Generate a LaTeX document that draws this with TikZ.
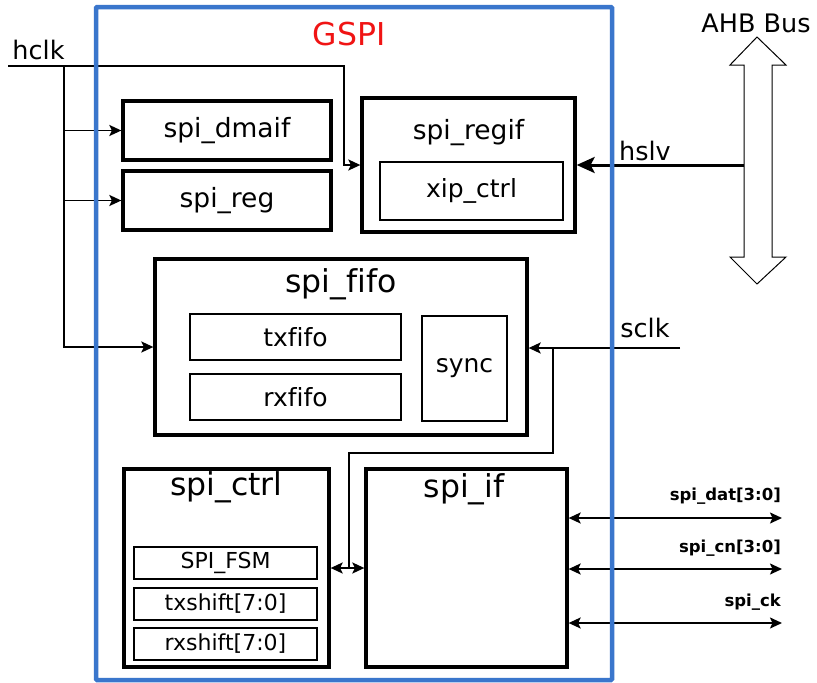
\documentclass[tikz,border=0pt]{standalone}
\usepackage{fontspec}
\setmainfont{DejaVu Sans}[Ligatures=NoCommon]
\usetikzlibrary{arrows.meta}
\definecolor{gspiblue}{RGB}{58,118,204}
\definecolor{gspired}{RGB}{240,20,20}
\begin{document}
\begin{tikzpicture}[x=1pt,y=-1pt,
  box/.style={draw, line width=3.3pt, inner sep=0pt, font=\fontsize{26.5}{30}\selectfont},
  inbox/.style={draw, line width=1.5pt, inner sep=0pt, font=\fontsize{25}{29}\selectfont},
  smbox/.style={draw, line width=1.5pt, inner sep=0pt, font=\fontsize{22}{25}\selectfont},
  title/.style={inner sep=0pt, font=\fontsize{31.5}{35}\selectfont},
  lbl/.style={inner sep=0pt, font=\fontsize{25.5}{29}\selectfont},
  pin/.style={inner sep=0pt, anchor=south east, font=\bfseries\fontsize{16.5}{19}\selectfont},
  wire/.style={line width=1.8pt},
  tip/.tip={Stealth[length=12pt,width=11pt,inset=2.5pt]},
  arr/.style={wire, -tip},
  darr/.style={wire, tip-tip},
  bigarr/.style={line width=3pt, -{Stealth[length=18pt,width=16pt,inset=4pt]}}]
\useasboundingbox (0,0) rectangle (817,683);
\fill[white] (0,0) rectangle (817,683);

% blocks
\node[box, minimum width=208pt, minimum height=59pt] (dmaif) at (227,130.5) {spi\_dmaif};
\node[box, minimum width=208pt, minimum height=59pt] (reg) at (227,200.5) {spi\_reg};
\node[box, minimum width=213pt, minimum height=134pt] (regif) at (468.5,165) {};
\node[inner sep=0pt, font=\fontsize{26.5}{30}\selectfont] (regiflbl) at (468.5,133) {spi\_regif};
\node[inbox, minimum width=183pt, minimum height=58pt] (xip) at (471.5,191) {xip\_ctrl};

\node[box, minimum width=372pt, minimum height=176pt] (fifo) at (341,347) {};
\node[title] (fifolbl) at (341,284) {spi\_fifo};
\node[inbox, minimum width=211pt, minimum height=46pt] (txfifo) at (295.5,337) {txfifo};
\node[inbox, minimum width=211pt, minimum height=46pt] (rxfifo) at (295.5,397) {rxfifo};
\node[inbox, minimum width=85pt, minimum height=105pt] (sync) at (464.5,368.5) {sync};

\node[box, minimum width=205pt, minimum height=198pt] (ctrl) at (226.5,568) {};
\node[title] (ctrllbl) at (226.5,487) {spi\_ctrl};
\node[smbox, minimum width=183pt, minimum height=32pt] (fsm) at (225.5,563) {SPI\_FSM};
\node[smbox, minimum width=183pt, minimum height=32pt] (txsh) at (225.5,604) {txshift[7:0]};
\node[smbox, minimum width=183pt, minimum height=32pt] (rxsh) at (225.5,644) {rxshift[7:0]};

\node[box, minimum width=201pt, minimum height=198pt] (spiif) at (466.5,568) {};
\node[title] (spiiflbl) at (464,489) {spi\_if};

% labels
\node[lbl] (hclk) at (38.5,50) {hclk};
\node[lbl] (hslv) at (645,151) {hslv};
\node[lbl] (sclk) at (645,328) {sclk};
\node[lbl] (ahb) at (756,23) {AHB Bus};
\node[title, text=gspired] (gspi) at (349,34) {GSPI};

% hclk wiring
\coordinate (hclkS) at (8,66);
\coordinate (hj) at (64,66);
\coordinate (hturn) at (344,66);
\draw[arr] (hclkS) -- (hturn) |- (regif.west);
\draw[arr] (hj) |- (dmaif.west);
\draw[arr] (hj) |- (reg.west);
\draw[arr] (hj) |- (fifo.west);

% AHB bus
\draw[line width=1pt] (757,37) -- (786,65) -- (772,65) -- (772,257) -- (786,257)
  -- (757,284) -- (730,257) -- (744,257) -- (744,65) -- (730,65) -- cycle;
\coordinate (busL) at (744,165);
\draw[bigarr] (busL) -- (regif.east);

% sclk wiring
\coordinate (sclkS) at (680,348);
\coordinate (sj) at (553,348);
\coordinate (sdown) at (553,453);
\coordinate (sleft) at (349,453);
\coordinate (sbot) at (349,568);
\draw[arr] (sclkS) -- (fifo.east |- sclkS);
\draw[wire] (sj) -- (sdown) -- (sleft) -- (sbot);
\draw[darr] (ctrl.east) -- (spiif.west);

% external pins
\coordinate (p1) at (782,518);
\coordinate (p2) at (782,569);
\coordinate (p3) at (782,623);
\draw[darr] (spiif.east |- p1) -- (p1);
\draw[darr] (spiif.east |- p2) -- (p2);
\draw[darr] (spiif.east |- p3) -- (p3);
\node[pin] (l1) at (781,505) {spi\_dat[3:0]};
\node[pin] (l2) at (781,557) {spi\_cn[3:0]};
\node[pin] (l3) at (781,611) {spi\_ck};

% GSPI frame
\draw[gspiblue, line width=4.5pt, rounded corners=1pt] (96,7) rectangle (612,680);
\end{tikzpicture}
\end{document}
